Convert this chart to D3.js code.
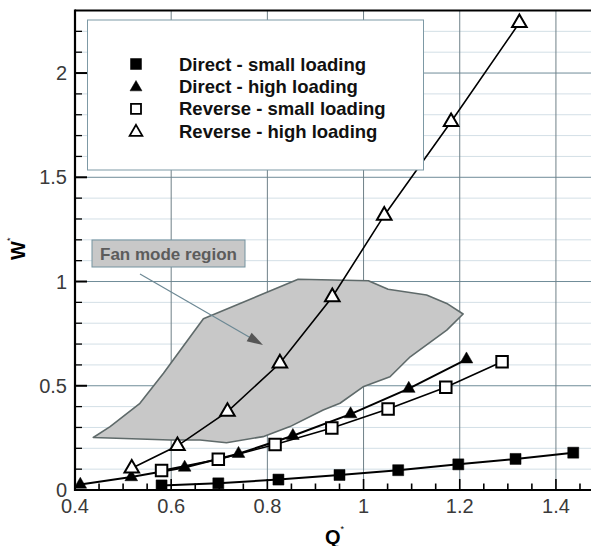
<!DOCTYPE html>
<html>
<head>
<meta charset="utf-8">
<script src="https://cdn.jsdelivr.net/npm/d3@7/dist/d3.min.js"></script>
<style>
  html, body { margin: 0; padding: 0; background: #fff; }
  svg { display: block; }
  text { font-family: "Liberation Sans", Arial, Helvetica, sans-serif; }
</style>
</head>
<body>
<svg id="chart" width="591" height="546"></svg>
<script>
// Flow coefficient Q* and power coefficient W* for each operating mode
const directSmallQ = [0.580, 0.698, 0.823, 0.950, 1.072, 1.197, 1.316, 1.436];
const directSmallW = [0.022, 0.032, 0.050, 0.072, 0.095, 0.123, 0.149, 0.179];

const directHighQ = [0.411, 0.517, 0.628, 0.740, 0.853, 0.973, 1.094, 1.214];
const directHighW = [0.026, 0.062, 0.108, 0.174, 0.260, 0.364, 0.486, 0.627];

const reverseSmallQ = [0.580, 0.698, 0.816, 0.934, 1.051, 1.171, 1.288];
const reverseSmallW = [0.093, 0.147, 0.218, 0.297, 0.388, 0.493, 0.615];

const reverseHighQ = [0.518, 0.613, 0.717, 0.826, 0.935, 1.043, 1.182, 1.324];
const reverseHighW = [0.104, 0.212, 0.376, 0.608, 0.926, 1.317, 1.766, 2.241];

// Outline of the fan mode region (Q*, W*)
const fanRegionQ = [0.438, 0.473, 0.535, 0.584, 0.622, 0.667, 0.864, 1.010, 1.051, 1.131, 1.173, 1.207,
                    1.173, 1.097, 1.055, 0.999, 0.951, 0.916, 0.847, 0.791, 0.715, 0.660, 0.598];
const fanRegionW = [0.252, 0.304, 0.416, 0.560, 0.680, 0.821, 1.011, 1.004, 0.963, 0.935, 0.895, 0.844,
                    0.767, 0.639, 0.543, 0.495, 0.416, 0.384, 0.304, 0.256, 0.227, 0.240, 0.240];

const xTicks = [0.4, 0.6, 0.8, 1.0, 1.2, 1.4];
const xTickLabels = ["0.4", "0.6", "0.8", "1", "1.2", "1.4"];
const yTicks = [0, 0.5, 1, 1.5, 2];
const yTickLabels = ["0", "0.5", "1", "1.5", "2"];

const seriesNames = ["Direct - small loading", "Direct - high loading",
                     "Reverse - small loading", "Reverse - high loading"];

const svg = d3.select("#chart");
const x = d3.scaleLinear().domain([0.4, 1.475]).range([75, 592]);
const y = d3.scaleLinear().domain([0, 2.3]).range([490, 10.5]);

const pL = x.range()[0], pR = 591, pT = y.range()[1], pB = y.range()[0];

svg.append("defs").append("clipPath").attr("id", "plotClip")
  .append("rect").attr("x", pL).attr("y", pT).attr("width", pR - pL).attr("height", pB - pT);

const plot = svg.append("g").attr("clip-path", "url(#plotClip)");

// Minor horizontal grid every 0.1
const minorY = d3.range(1, 23).map(i => i / 10).filter(v => Math.abs(v * 2 - Math.round(v * 2)) > 1e-6);
plot.append("g").selectAll("line").data(minorY).join("line")
  .attr("x1", pL).attr("x2", pR)
  .attr("y1", d => y(d)).attr("y2", d => y(d))
  .attr("stroke", "#d3dfe6").attr("stroke-width", 1);

// Major grid
plot.append("g").selectAll("line").data(yTicks.slice(1)).join("line")
  .attr("x1", pL).attr("x2", pR)
  .attr("y1", d => y(d)).attr("y2", d => y(d))
  .attr("stroke", "#6f8c98").attr("stroke-width", 1);
plot.append("g").selectAll("line").data(xTicks.slice(1)).join("line")
  .attr("x1", d => x(d)).attr("x2", d => x(d))
  .attr("y1", pT).attr("y2", pB)
  .attr("stroke", "#6f8088").attr("stroke-width", 1);

// Fan mode region
const regionPts = fanRegionQ.map((q, i) => [x(q), y(fanRegionW[i])]);
plot.append("path")
  .attr("d", d3.line()(regionPts) + "Z")
  .attr("fill", "#c8c8c8").attr("stroke", "#5f6a6a").attr("stroke-width", 1.6)
  .attr("stroke-linejoin", "round");

// Annotation label and arrow
const ann = svg.append("g");
ann.append("rect").attr("x", 92).attr("y", 240).attr("width", 153).attr("height", 27)
  .attr("fill", "#c8c8c8").attr("stroke", "#7593a0").attr("stroke-width", 1);
ann.append("text").attr("x", 168.5).attr("y", 260).attr("text-anchor", "middle")
  .attr("font-size", 17).attr("font-weight", "bold").attr("fill", "#5c5c5c")
  .text("Fan mode region");
const arrowStart = [140, 274], arrowEnd = [263, 345];
ann.append("line").attr("x1", arrowStart[0]).attr("y1", arrowStart[1])
  .attr("x2", arrowEnd[0] - 10).attr("y2", arrowEnd[1] - 5.8)
  .attr("stroke", "#6c8894").attr("stroke-width", 1.2);
{
  const ang = Math.atan2(arrowEnd[1] - arrowStart[1], arrowEnd[0] - arrowStart[0]);
  const L = 16, W = 5;
  const bx = arrowEnd[0] - L * Math.cos(ang), by = arrowEnd[1] - L * Math.sin(ang);
  const px = -Math.sin(ang) * W, py = Math.cos(ang) * W;
  ann.append("path")
    .attr("d", `M${arrowEnd[0]},${arrowEnd[1]}L${bx + px},${by + py}L${bx - px},${by - py}Z`)
    .attr("fill", "#555");
}

// Series
const series = [
  { q: directSmallQ, w: directSmallW, type: d3.symbolSquare, size: 121, filled: true, lw: 2 },
  { q: directHighQ, w: directHighW, type: d3.symbolTriangle, size: 70, filled: true, lw: 2 },
  { q: reverseSmallQ, w: reverseSmallW, type: d3.symbolSquare, size: 132, filled: false, lw: 1.6 },
  { q: reverseHighQ, w: reverseHighW, type: d3.symbolTriangle, size: 92, filled: false, lw: 1.6 }
];
const lineGen = d3.line().x(d => x(d[0])).y(d => y(d[1]));
const sg = plot.append("g");
series.forEach(s => {
  const pts = s.q.map((q, i) => [q, s.w[i]]);
  sg.append("path").attr("d", lineGen(pts)).attr("fill", "none")
    .attr("stroke", "#000").attr("stroke-width", s.lw);
});
series.forEach(s => {
  const pts = s.q.map((q, i) => [q, s.w[i]]);
  sg.append("g").selectAll("path").data(pts).join("path")
    .attr("transform", d => `translate(${x(d[0])},${y(d[1])})`)
    .attr("d", d3.symbol().type(s.type).size(s.size))
    .attr("fill", s.filled ? "#000" : "#fff")
    .attr("stroke", "#000").attr("stroke-width", s.filled ? 0.5 : 2);
});

// Legend
const lg = svg.append("g");
lg.append("rect").attr("x", 87.5).attr("y", 20).attr("width", 336).attr("height", 150)
  .attr("fill", "#fff").attr("stroke", "#7d99a5").attr("stroke-width", 1);
const legendSymbols = [
  { type: d3.symbolSquare, size: 121, filled: true },
  { type: d3.symbolTriangle, size: 62, filled: true },
  { type: d3.symbolSquare, size: 100, filled: false },
  { type: d3.symbolTriangle, size: 70, filled: false }
];
seriesNames.forEach((name, i) => {
  const cy = 64 + i * 22.4;
  const sym = legendSymbols[i];
  lg.append("path").attr("transform", `translate(136,${cy + (sym.type === d3.symbolTriangle ? 1 : 0)})`)
    .attr("d", d3.symbol().type(sym.type).size(sym.size))
    .attr("fill", sym.filled ? "#000" : "#fff")
    .attr("stroke", "#000").attr("stroke-width", sym.filled ? 0.5 : 1.8);
  lg.append("text").attr("x", 179).attr("y", cy + 6.5)
    .attr("font-size", 18.5).attr("font-weight", "bold").attr("fill", "#111")
    .text(name);
});

// Frame
svg.append("line").attr("x1", pL).attr("x2", pR).attr("y1", pT).attr("y2", pT)
  .attr("stroke", "#000").attr("stroke-width", 2);

// Axes with inward ticks
const xAxis = svg.append("g").attr("transform", `translate(0,${pB})`);
const xMinor = d3.range(0, 22).map(i => 0.4 + i * 0.05).filter(v => v <= 1.47);
xAxis.append("g").selectAll("line").data(xMinor).join("line")
  .attr("x1", d => x(d)).attr("x2", d => x(d)).attr("y1", 0)
  .attr("y2", (d, i) => i % 4 === 0 ? -11 : -6.5)
  .attr("stroke", "#000").attr("stroke-width", 1.6);
xAxis.append("line").attr("x1", pL - 1).attr("x2", pR).attr("y1", 0).attr("y2", 0)
  .attr("stroke", "#000").attr("stroke-width", 2.2);
xAxis.append("g").selectAll("text").data(xTicks).join("text")
  .attr("x", d => x(d)).attr("y", 22.5).attr("text-anchor", "middle")
  .attr("font-size", 20).attr("fill", "#3a3a3a")
  .text((d, i) => xTickLabels[i]);

const yAxis = svg.append("g").attr("transform", `translate(${pL},0)`);
const yMinor = d3.range(0, 23).map(i => i / 10);
yAxis.append("g").selectAll("line").data(yMinor).join("line")
  .attr("x1", 0).attr("x2", (d, i) => i % 5 === 0 ? 12 : 7)
  .attr("y1", d => y(d)).attr("y2", d => y(d))
  .attr("stroke", "#000").attr("stroke-width", (d, i) => i % 5 === 0 ? 2 : 1.3);
yAxis.append("line").attr("x1", 0).attr("x2", 0).attr("y1", pT - 1).attr("y2", pB + 1)
  .attr("stroke", "#000").attr("stroke-width", 2.2);
yAxis.append("g").selectAll("text").data(yTicks).join("text")
  .attr("x", -8).attr("y", d => y(d) + 7.2).attr("text-anchor", "end")
  .attr("font-size", 20).attr("fill", "#3a3a3a")
  .text((d, i) => yTickLabels[i]);

// Axis titles
const qt = svg.append("text").attr("x", 325).attr("y", 543.5)
  .attr("font-size", 20).attr("font-weight", "bold").attr("fill", "#000");
qt.append("tspan").text("Q");
qt.append("tspan").attr("dy", -12).attr("font-size", 9).attr("font-weight", "normal").text("*");

const wt = svg.append("text").attr("transform", "translate(25,260) rotate(-90)")
  .attr("font-size", 20).attr("font-weight", "bold").attr("fill", "#000");
wt.append("tspan").text("W");
wt.append("tspan").attr("dy", -12).attr("font-size", 9).attr("font-weight", "normal").text("*");
</script>
</body>
</html>
